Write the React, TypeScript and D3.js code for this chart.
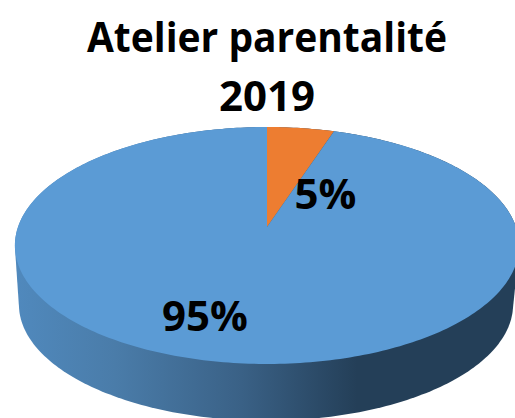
import React from "react";
import * as d3 from "d3";

const titleLines = ["Atelier parentalité", "2019"];
const categories = ["Oui", "Non"];
const values = [95, 5];
const sliceLabels = ["95%", "5%"];
const sliceColors = ["#5B9BD5", "#ED7D31"];

const width = 515;
const height = 418;

// the pie is a flat disc seen in perspective, so the centre is not the middle of the ellipse
const apex = { x: 267, y: 227 };
const halfWidth = 249;
const halfDepth = 115.6;
const tilt = 0.156;
const wall = { dx: -1, dy: 59.5, scale: 0.98 };
const labelPos = [
  { x: 205, y: 330.5 },
  { x: 325.5, y: 208.5 },
];
const fontSize = 42;
// Open Sans is wider than the original font on the long line
const titleLength = [360, undefined];

function project(angle: number, lower = false): [number, number] {
  const u = Math.sin(angle);
  const v = Math.cos(angle);
  const w = 1 + tilt * v;
  const x = (halfWidth * u) / w;
  const y = (-halfDepth * v) / w;
  if (!lower) return [apex.x + x, apex.y + y];
  return [apex.x + wall.dx + x * wall.scale, apex.y + wall.dy + y * wall.scale];
}

// rim points between two angles, about one every degree
function rim(a0: number, a1: number, lower = false) {
  const n = Math.max(2, Math.ceil(Math.abs(a1 - a0) / (Math.PI / 180)));
  return d3.range(n + 1).map((i) => project(a0 + ((a1 - a0) * i) / n, lower));
}

export default function App() {
  // clockwise from 12 o'clock, the small slice comes first
  const order = d3.pie<number>().sort(null)([...values].reverse());
  const slices = order.map((s, i) => ({
    ...s,
    color: [...sliceColors].reverse()[i],
    name: [...categories].reverse()[i],
  }));

  const line = d3.line();
  const sidePts = d3.polygonHull([
    ...rim(0, 2 * Math.PI),
    ...rim(0, 2 * Math.PI, true),
  ]) as [number, number][];

  return (
    <svg
      width={width}
      height={height}
      style={{ position: "absolute", left: 0, top: 0, display: "block", background: "#fff" }}
    >
      <defs>
        <linearGradient id="side" gradientUnits="userSpaceOnUse" x1={15} x2={518} y1={0} y2={0}>
          <stop offset="0" stopColor="#5089BD" />
          <stop offset="0.2" stopColor="#4A7CA9" />
          <stop offset="0.45" stopColor="#3A6186" />
          <stop offset="0.68" stopColor="#243F58" />
          <stop offset="1" stopColor="#243F58" />
        </linearGradient>
      </defs>

      <path d={line(sidePts) + "Z"} fill="url(#side)" />

      {slices.map((s) => (
        <path
          key={s.name}
          d={line([[apex.x, apex.y], ...rim(s.startAngle, s.endAngle)]) + "Z"}
          fill={s.color}
        />
      ))}

      <g fontFamily="'Open Sans', sans-serif" fontWeight="700" fill="#000" textAnchor="middle" fontSize={fontSize}>
        {titleLines.map((t, i) => (
          <text
            key={t}
            x={267}
            y={52 + i * 58.5}
            textLength={titleLength[i]}
            lengthAdjust={titleLength[i] ? "spacingAndGlyphs" : undefined}
          >
            {t}
          </text>
        ))}
        {sliceLabels.map((t, i) => (
          <text key={t} x={labelPos[i].x} y={labelPos[i].y}>
            {t}
          </text>
        ))}
      </g>
    </svg>
  );
}
